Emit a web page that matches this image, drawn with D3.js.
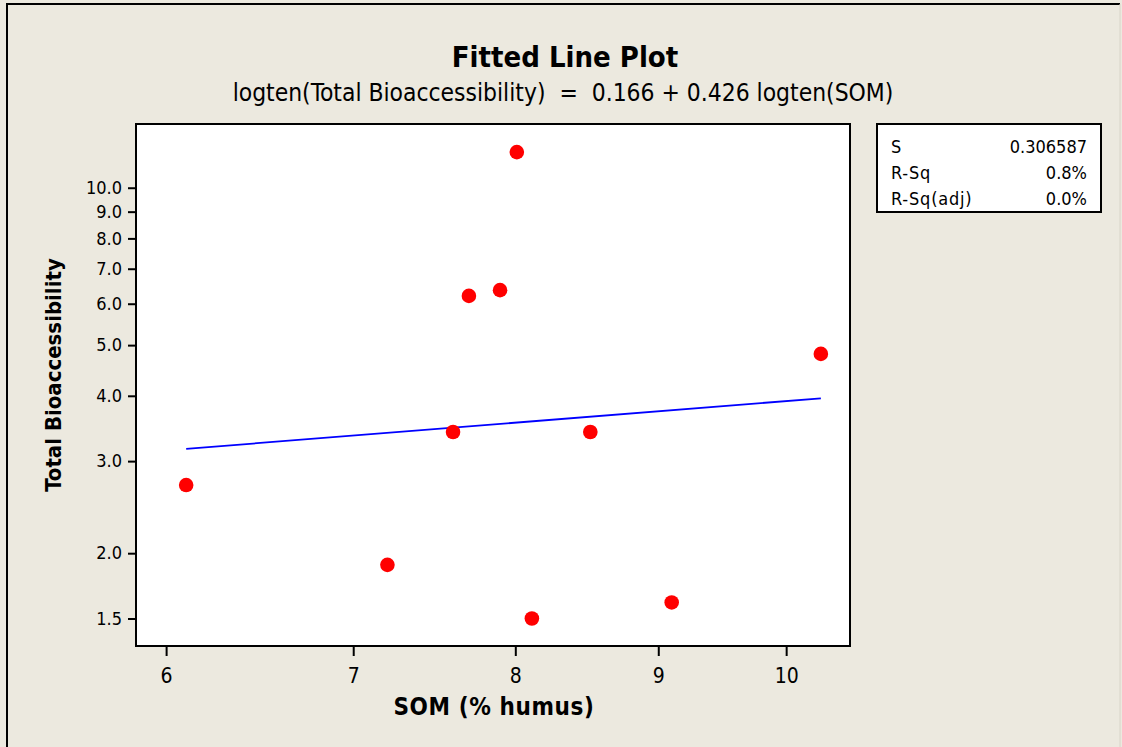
<!DOCTYPE html>
<html>
<head>
<meta charset="utf-8">
<script src="https://cdn.jsdelivr.net/npm/d3@7"></script>
<style>
  body { margin: 0; background: #ece9df; }
  text { font-family: "DejaVu Sans Condensed", "DejaVu Sans", sans-serif; fill: #000; white-space: pre; }
</style>
</head>
<body>
<div id="chart"></div>
<script>
// SOM (% humus) vs Total Bioaccessibility
let som = [6.10, 7.20, 7.60, 7.70, 7.90, 8.01, 8.11, 8.51, 9.10, 10.29];
let bioacc = [2.70, 1.90, 3.41, 6.21, 6.37, 11.70, 1.50, 3.41, 1.61, 4.81];

// regression on logten scale
let fitCoef = [0.166, 0.426];

let xTicks = [6, 7, 8, 9, 10];
let yTicks = [1.5, 2, 3, 4, 5, 6, 7, 8, 9, 10];

let statNames = ['S', 'R-Sq', 'R-Sq(adj)'];
let statValues = ['0.306587', '0.8%', '0.0%'];

let width = 1122,
    height = 747;

let svg = d3.select('#chart').append('svg')
    .attr('width', width)
    .attr('height', height);

svg.append('rect')
    .attr('width', width)
    .attr('height', height)
    .attr('fill', '#ece9df');

// outer frame
svg.append('path')
    .attr('d', 'M7,747 V4 H1120')
    .attr('fill', 'none')
    .attr('stroke', '#000')
    .attr('stroke-width', 2);
svg.append('line')
    .attr('x1', 1120).attr('x2', 1120)
    .attr('y1', 4).attr('y2', 747)
    .attr('stroke', '#d8d4c8');

//----------------------------------------
// plot area
let plot = {left: 136, right: 850, top: 124, bottom: 646};

let x = d3.scaleLog()
    .domain([5.853, 10.54])
    .range([plot.left, plot.right]);
let y = d3.scaleLog()
    .domain([1.329, 13.24])
    .range([plot.bottom, plot.top]);

svg.append('rect')
    .attr('x', plot.left)
    .attr('y', plot.top)
    .attr('width', plot.right - plot.left)
    .attr('height', plot.bottom - plot.top)
    .attr('fill', '#fff')
    .attr('stroke', '#000')
    .attr('stroke-width', 2);

// axes
let xAxis = d3.axisBottom(x)
    .tickValues(xTicks)
    .tickFormat(d3.format('d'))
    .tickSizeOuter(0)
    .tickSize(10)
    .tickPadding(12);
let gx = svg.append('g')
    .attr('transform', 'translate(0,' + plot.bottom + ')')
    .call(xAxis);
gx.select('.domain').remove();
gx.selectAll('line').attr('stroke', '#000').attr('stroke-width', 2);
gx.selectAll('text')
    .style('font-size', '21px')
    .attr('fill', '#000');

let yAxis = d3.axisLeft(y)
    .tickValues(yTicks)
    .tickFormat(d3.format('.1f'))
    .tickSizeOuter(0)
    .tickSize(8)
    .tickPadding(6);
let gy = svg.append('g')
    .attr('transform', 'translate(' + plot.left + ',0)')
    .call(yAxis);
gy.select('.domain').remove();
gy.selectAll('line').attr('stroke', '#000').attr('stroke-width', 2);
gy.selectAll('text')
    .style('font-size', '18px')
    .attr('fill', '#000');

//----------------------------------------
// fitted line
let xMin = d3.min(som),
    xMax = d3.max(som);
let fitLine = [xMin, xMax].map(function(v) {
    return [v, Math.pow(10, fitCoef[0] + fitCoef[1] * Math.log10(v))];
});
let lineGen = d3.line()
    .x(function(d) { return x(d[0]); })
    .y(function(d) { return y(d[1]); });
svg.append('path')
    .datum(fitLine)
    .attr('d', lineGen)
    .attr('fill', 'none')
    .attr('stroke', '#0000ff')
    .attr('stroke-width', 1.8);

// points
svg.selectAll('circle.pt')
    .data(som)
    .enter()
    .append('circle')
    .attr('class', 'pt')
    .attr('cx', function(d) { return x(d); })
    .attr('cy', function(d, i) { return y(bioacc[i]); })
    .attr('r', 7.3)
    .attr('fill', '#ff0000');

//----------------------------------------
// titles
svg.append('text')
    .attr('x', 565)
    .attr('y', 67)
    .attr('text-anchor', 'middle')
    .style('font-size', '29px')
    .style('font-weight', 'bold')
    .text('Fitted Line Plot');

svg.append('text')
    .attr('x', 563)
    .attr('y', 101)
    .attr('text-anchor', 'middle')
    .style('font-size', '24.4px')
    .text('logten(Total Bioaccessibility)  =  0.166 + 0.426 logten(SOM)');

svg.append('text')
    .attr('x', 494)
    .attr('y', 715)
    .attr('text-anchor', 'middle')
    .style('font-size', '24px')
    .style('font-weight', 'bold')
    .style('letter-spacing', '0.6px')
    .text('SOM (% humus)');

svg.append('text')
    .attr('transform', 'translate(61,375) rotate(-90)')
    .attr('text-anchor', 'middle')
    .style('font-size', '22px')
    .style('font-weight', 'bold')
    .text('Total Bioaccessibility');

//----------------------------------------
// stats box
svg.append('rect')
    .attr('x', 877)
    .attr('y', 124)
    .attr('width', 224)
    .attr('height', 88)
    .attr('fill', '#fff')
    .attr('stroke', '#000')
    .attr('stroke-width', 2);

svg.selectAll('text.stat-name')
    .data(statNames)
    .enter()
    .append('text')
    .attr('class', 'stat-name')
    .attr('x', 891)
    .attr('y', function(d, i) { return 153 + i * 26; })
    .style('font-size', '18px')
    .style('letter-spacing', '0.8px')
    .text(function(d) { return d; });

svg.selectAll('text.stat-val')
    .data(statValues)
    .enter()
    .append('text')
    .attr('class', 'stat-val')
    .attr('x', 1087)
    .attr('y', function(d, i) { return 153 + i * 26; })
    .attr('text-anchor', 'end')
    .style('font-size', '18px')
    .text(function(d) { return d; });
</script>
</body>
</html>
